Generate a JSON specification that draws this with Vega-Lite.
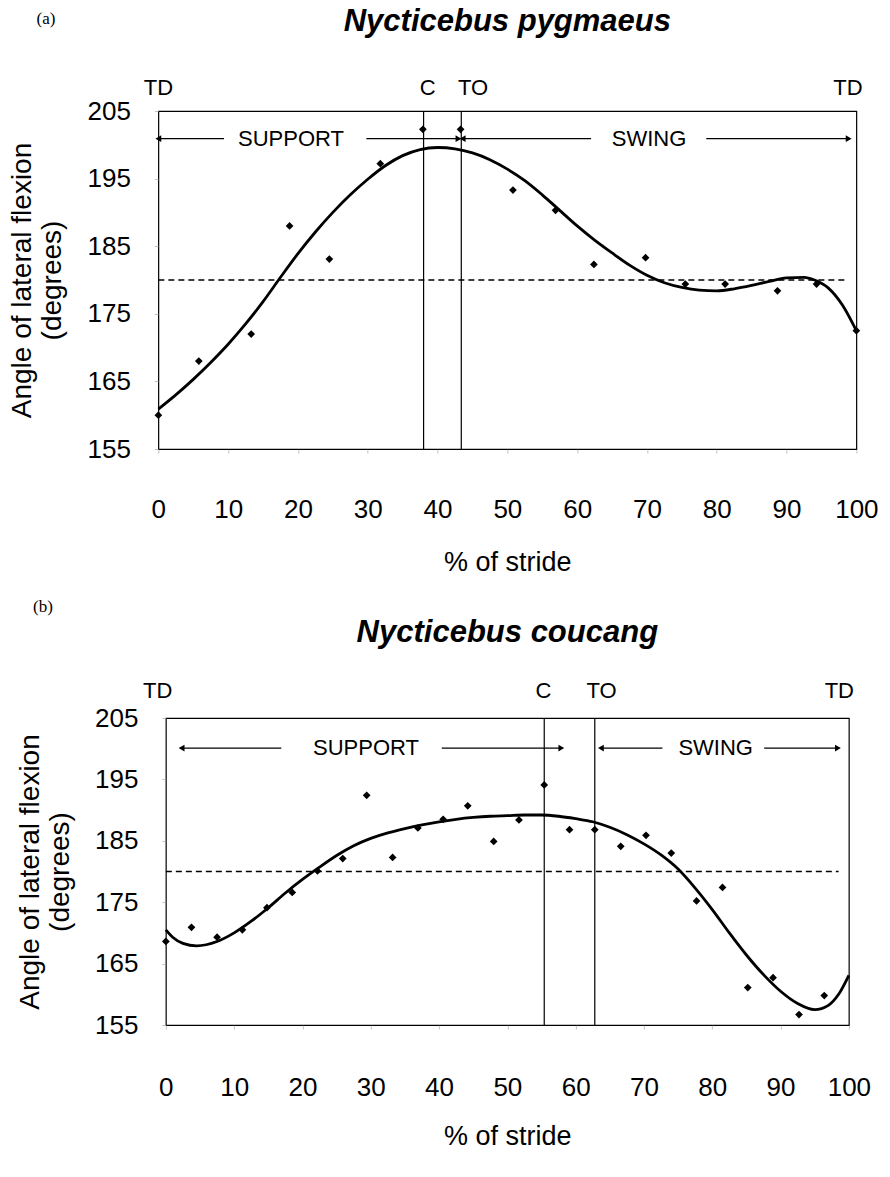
{
  "$schema": "https://vega.github.io/schema/vega-lite/v6.json",
  "padding": {"left": 8, "top": 4, "right": 10, "bottom": 4},
  "background": "white",
  "spacing": 21,
  "center": true,
  "config": {
    "font": "Liberation Sans",
    "view": {"stroke": "black", "strokeWidth": 1.2},
    "axis": {"grid": false, "domain": false, "labelFlush": false, "labelOverlap": false, "labelFont": "Liberation Sans", "titleFont": "Liberation Sans", "labelColor": "black", "titleColor": "black", "titleFontWeight": "normal", "tickColor": "#999", "tickSize": 4, "tickWidth": 0.6},
    "title": {"font": "Liberation Sans", "fontSize": 31, "fontStyle": "italic", "fontWeight": "bold", "color": "black", "anchor": "middle", "frame": "group"}
  },
  "datasets": {
    "ptsA": [
      {"x": 0, "y": 160}, {"x": 5.8, "y": 168}, {"x": 13.3, "y": 172}, {"x": 18.8, "y": 188}, {"x": 24.5, "y": 183.1}, {"x": 31.8, "y": 197.2}, {"x": 37.9, "y": 202.3}, {"x": 43.3, "y": 202.3}, {"x": 50.8, "y": 193.3}, {"x": 56.9, "y": 190.3}, {"x": 62.4, "y": 182.3}, {"x": 69.8, "y": 183.3}, {"x": 75.5, "y": 179.4}, {"x": 81.2, "y": 179.4}, {"x": 88.7, "y": 178.4}, {"x": 94.3, "y": 179.4}, {"x": 100, "y": 172.5}
    ],
    "curveA": [
      {"x": 0, "y": 160.9}, {"x": 2.5, "y": 163.0}, {"x": 5, "y": 165.3}, {"x": 7.5, "y": 167.8}, {"x": 10, "y": 170.5}, {"x": 12.5, "y": 173.5}, {"x": 15, "y": 176.8}, {"x": 17.5, "y": 180.4}, {"x": 20, "y": 183.9}, {"x": 22.5, "y": 187.1}, {"x": 25, "y": 190.0}, {"x": 27.5, "y": 192.6}, {"x": 30, "y": 194.9}, {"x": 32.5, "y": 196.9}, {"x": 35, "y": 198.4}, {"x": 37.5, "y": 199.3}, {"x": 40, "y": 199.6}, {"x": 42.5, "y": 199.4}, {"x": 45, "y": 198.8}, {"x": 47.5, "y": 197.8}, {"x": 50, "y": 196.4}, {"x": 52.5, "y": 194.7}, {"x": 55, "y": 192.6}, {"x": 57.5, "y": 190.3}, {"x": 60, "y": 188.0}, {"x": 62.5, "y": 185.9}, {"x": 65, "y": 184.0}, {"x": 67.5, "y": 182.2}, {"x": 70, "y": 180.7}, {"x": 72.5, "y": 179.6}, {"x": 75, "y": 178.9}, {"x": 77.5, "y": 178.5}, {"x": 80, "y": 178.4}, {"x": 82.5, "y": 178.7}, {"x": 85, "y": 179.2}, {"x": 87.5, "y": 179.8}, {"x": 90, "y": 180.3}, {"x": 92.5, "y": 180.4}, {"x": 94, "y": 180.0}, {"x": 96, "y": 178.8}, {"x": 98, "y": 176.3}, {"x": 100, "y": 172.5}
    ],
    "refA": [{"x": 0, "x2": 98.6, "y": 180}],
    "eventsA": [{"event": "C", "x": 38.0, "y": 155, "y2": 205}, {"event": "TO", "x": 43.4, "y": 155, "y2": 205}],
    "marksA": [{"label": "TD", "x": 0, "y": 208.4}, {"label": "C", "x": 38.6, "y": 208.4}, {"label": "TO", "x": 45.1, "y": 208.4}, {"label": "TD", "x": 98.8, "y": 208.4}],
    "arrowsA": [{"x": 0, "x2": 9.4, "y": 200.9}, {"x": 29.8, "x2": 43.0, "y": 200.9}, {"x": 43.6, "x2": 62.0, "y": 200.9}, {"x": 78.5, "x2": 98.9, "y": 200.9}],
    "tipsLeftA": [{"x": 0, "y": 200.9}, {"x": 43.6, "y": 200.9}],
    "tipsRightA": [{"x": 43.0, "y": 200.9}, {"x": 98.9, "y": 200.9}],
    "phaseA": [{"label": "SUPPORT", "x": 19.0, "y": 200.9}, {"label": "SWING", "x": 70.3, "y": 200.9}],
    "tagA": [{"label": "(a)", "x": -16.1, "y": 218.6}],
    "ptsB": [
      {"x": 0, "y": 168.6}, {"x": 3.75, "y": 170.9}, {"x": 7.5, "y": 169.3}, {"x": 11.2, "y": 170.5}, {"x": 14.8, "y": 174.1}, {"x": 18.5, "y": 176.6}, {"x": 22.2, "y": 180.1}, {"x": 25.9, "y": 182.1}, {"x": 29.4, "y": 192.4}, {"x": 33.2, "y": 182.3}, {"x": 36.9, "y": 187.1}, {"x": 40.6, "y": 188.5}, {"x": 44.2, "y": 190.7}, {"x": 48.0, "y": 184.9}, {"x": 51.7, "y": 188.4}, {"x": 55.4, "y": 194.1}, {"x": 59.1, "y": 186.8}, {"x": 62.8, "y": 186.8}, {"x": 66.6, "y": 184.1}, {"x": 70.3, "y": 185.9}, {"x": 74.0, "y": 183.0}, {"x": 77.7, "y": 175.2}, {"x": 81.5, "y": 177.4}, {"x": 85.2, "y": 161.1}, {"x": 88.9, "y": 162.7}, {"x": 92.7, "y": 156.7}, {"x": 96.4, "y": 159.8}
    ],
    "curveB": [
      {"x": 0, "y": 170.5}, {"x": 1, "y": 169.3}, {"x": 2.5, "y": 168.3}, {"x": 4.5, "y": 167.9}, {"x": 7.5, "y": 168.6}, {"x": 10, "y": 170.0}, {"x": 12.5, "y": 171.9}, {"x": 15, "y": 174.1}, {"x": 17.5, "y": 176.5}, {"x": 20, "y": 178.7}, {"x": 22.5, "y": 180.7}, {"x": 25, "y": 182.6}, {"x": 27.5, "y": 184.2}, {"x": 30, "y": 185.4}, {"x": 32.5, "y": 186.3}, {"x": 35, "y": 187.0}, {"x": 37.5, "y": 187.6}, {"x": 40, "y": 188.1}, {"x": 42.5, "y": 188.5}, {"x": 45, "y": 188.8}, {"x": 47.5, "y": 189.0}, {"x": 50, "y": 189.1}, {"x": 52.5, "y": 189.2}, {"x": 55, "y": 189.2}, {"x": 57.5, "y": 189.0}, {"x": 60, "y": 188.6}, {"x": 62.5, "y": 188.1}, {"x": 65, "y": 187.2}, {"x": 67.5, "y": 186.0}, {"x": 70, "y": 184.5}, {"x": 72.5, "y": 182.7}, {"x": 75, "y": 180.4}, {"x": 77.5, "y": 177.3}, {"x": 80, "y": 173.8}, {"x": 82.5, "y": 170.0}, {"x": 85, "y": 166.4}, {"x": 87.5, "y": 163.2}, {"x": 90, "y": 160.5}, {"x": 92.5, "y": 158.5}, {"x": 95, "y": 157.5}, {"x": 97, "y": 158.2}, {"x": 98.5, "y": 160.0}, {"x": 100, "y": 163.1}
    ],
    "refB": [{"x": 0, "x2": 98.5, "y": 180}],
    "eventsB": [{"event": "C", "x": 55.4, "y": 155, "y2": 205}, {"event": "TO", "x": 62.8, "y": 155, "y2": 205}],
    "marksB": [{"label": "TD", "x": -1.2, "y": 209.4}, {"label": "C", "x": 55.3, "y": 209.4}, {"label": "TO", "x": 63.8, "y": 209.4}, {"label": "TD", "x": 98.6, "y": 209.4}],
    "arrowsB": [{"x": 2.3, "x2": 16.9, "y": 200.1}, {"x": 40.4, "x2": 57.9, "y": 200.1}, {"x": 63.7, "x2": 72.7, "y": 200.1}, {"x": 87.6, "x2": 98.4, "y": 200.1}],
    "tipsLeftB": [{"x": 2.3, "y": 200.1}, {"x": 63.7, "y": 200.1}],
    "tipsRightB": [{"x": 57.9, "y": 200.1}, {"x": 98.4, "y": 200.1}],
    "phaseB": [{"label": "SUPPORT", "x": 29.3, "y": 200.1}, {"label": "SWING", "x": 80.5, "y": 200.1}],
    "tagB": [{"label": "(b)", "x": -18.0, "y": 223.1}]
  },
  "vconcat": [
    {
      "width": 698,
      "height": 338,
      "title": {"text": "Nycticebus pygmaeus", "offset": -27.5},
      "encoding": {
        "x": {"field": "x", "type": "quantitative", "scale": {"domain": [0, 100], "nice": false, "zero": false}, "axis": {"values": [0, 10, 20, 30, 40, 50, 60, 70, 80, 90, 100], "labelFontSize": 26, "labelPadding": 43, "title": "% of stride", "titleFontSize": 27, "titlePadding": 27}},
        "y": {"field": "y", "type": "quantitative", "scale": {"domain": [155, 205], "nice": false, "zero": false}, "axis": {"values": [155, 165, 175, 185, 195, 205], "labelFontSize": 26, "labelPadding": 24, "title": ["Angle of lateral flexion", "(degrees)"], "titleFontSize": 28, "titleLineHeight": 30, "titlePadding": 20}}
      },
      "layer": [
        {"data": {"name": "refA"}, "mark": {"type": "rule", "color": "black", "strokeWidth": 1.3, "strokeDash": [6, 4]}, "encoding": {"x2": {"field": "x2"}}},
        {"data": {"name": "eventsA"}, "mark": {"type": "rule", "color": "black", "strokeWidth": 1.2}, "encoding": {"y2": {"field": "y2"}}},
        {"data": {"name": "curveA"}, "mark": {"type": "line", "color": "black", "strokeWidth": 2.8, "interpolate": "monotone"}},
        {"data": {"name": "ptsA"}, "mark": {"type": "point", "shape": "diamond", "filled": true, "color": "black", "size": 60, "opacity": 1, "clip": false}},
        {"data": {"name": "marksA"}, "mark": {"type": "text", "fontSize": 22, "color": "black", "baseline": "middle", "align": "center"}, "encoding": {"text": {"field": "label"}}},
        {"data": {"name": "arrowsA"}, "mark": {"type": "rule", "color": "black", "strokeWidth": 1.2}, "encoding": {"x2": {"field": "x2"}}},
        {"data": {"name": "tipsLeftA"}, "mark": {"type": "point", "shape": "triangle-left", "filled": true, "color": "black", "size": 45, "opacity": 1, "dx": 3}},
        {"data": {"name": "tipsRightA"}, "mark": {"type": "point", "shape": "triangle-right", "filled": true, "color": "black", "size": 45, "opacity": 1, "dx": -3}},
        {"data": {"name": "phaseA"}, "mark": {"type": "text", "fontSize": 22, "color": "black", "baseline": "middle", "align": "center"}, "encoding": {"text": {"field": "label"}}},
        {"data": {"name": "tagA"}, "mark": {"type": "text", "font": "Liberation Serif", "fontSize": 17, "color": "black", "baseline": "middle", "align": "center"}, "encoding": {"text": {"field": "label"}}}
      ]
    },
    {
      "width": 683,
      "height": 307,
      "title": {"text": "Nycticebus coucang", "offset": -51.5},
      "encoding": {
        "x": {"field": "x", "type": "quantitative", "scale": {"domain": [0, 100], "nice": false, "zero": false}, "axis": {"values": [0, 10, 20, 30, 40, 50, 60, 70, 80, 90, 100], "labelFontSize": 26, "labelPadding": 45, "title": "% of stride", "titleFontSize": 27, "titlePadding": 23}},
        "y": {"field": "y", "type": "quantitative", "scale": {"domain": [155, 205], "nice": false, "zero": false}, "axis": {"values": [155, 165, 175, 185, 195, 205], "labelFontSize": 26, "labelPadding": 24, "title": ["Angle of lateral flexion", "(degrees)"], "titleFontSize": 28, "titleLineHeight": 30, "titlePadding": 20}}
      },
      "layer": [
        {"data": {"name": "refB"}, "mark": {"type": "rule", "color": "black", "strokeWidth": 1.3, "strokeDash": [6, 4]}, "encoding": {"x2": {"field": "x2"}}},
        {"data": {"name": "eventsB"}, "mark": {"type": "rule", "color": "black", "strokeWidth": 1.2}, "encoding": {"y2": {"field": "y2"}}},
        {"data": {"name": "curveB"}, "mark": {"type": "line", "color": "black", "strokeWidth": 2.8, "interpolate": "monotone"}},
        {"data": {"name": "ptsB"}, "mark": {"type": "point", "shape": "diamond", "filled": true, "color": "black", "size": 60, "opacity": 1, "clip": false}},
        {"data": {"name": "marksB"}, "mark": {"type": "text", "fontSize": 22, "color": "black", "baseline": "middle", "align": "center"}, "encoding": {"text": {"field": "label"}}},
        {"data": {"name": "arrowsB"}, "mark": {"type": "rule", "color": "black", "strokeWidth": 1.2}, "encoding": {"x2": {"field": "x2"}}},
        {"data": {"name": "tipsLeftB"}, "mark": {"type": "point", "shape": "triangle-left", "filled": true, "color": "black", "size": 45, "opacity": 1, "dx": 3}},
        {"data": {"name": "tipsRightB"}, "mark": {"type": "point", "shape": "triangle-right", "filled": true, "color": "black", "size": 45, "opacity": 1, "dx": -3}},
        {"data": {"name": "phaseB"}, "mark": {"type": "text", "fontSize": 22, "color": "black", "baseline": "middle", "align": "center"}, "encoding": {"text": {"field": "label"}}},
        {"data": {"name": "tagB"}, "mark": {"type": "text", "font": "Liberation Serif", "fontSize": 17, "color": "black", "baseline": "middle", "align": "center"}, "encoding": {"text": {"field": "label"}}}
      ]
    }
  ]
}
